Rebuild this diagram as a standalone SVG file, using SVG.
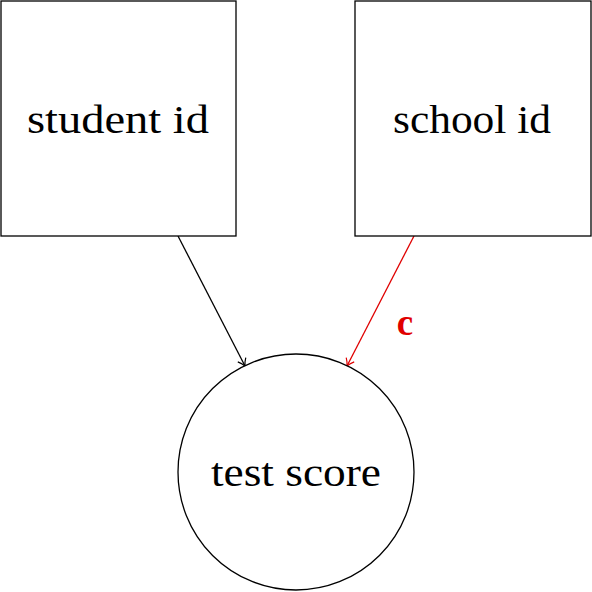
<svg xmlns="http://www.w3.org/2000/svg" width="592" height="592" viewBox="0 0 592 592">
<style>
.box{fill:#fff;stroke:#000;stroke-width:1.3}
.lbl{font-family:"Liberation Serif","DejaVu Serif",serif;font-size:40px;text-anchor:middle;fill:#000}
.edge{fill:none;stroke-width:1.3}
</style>
<defs>
<marker id="ab" markerWidth="12" markerHeight="12" refX="9" refY="6" orient="auto" markerUnits="userSpaceOnUse">
<path d="M2,1.5 Q6,5 9,6 Q6,7 2,10.5" fill="none" stroke="#000" stroke-width="1.2"/>
</marker>
<marker id="ar" markerWidth="12" markerHeight="12" refX="9" refY="6" orient="auto" markerUnits="userSpaceOnUse">
<path d="M2,1.5 Q6,5 9,6 Q6,7 2,10.5" fill="none" stroke="#e00000" stroke-width="1.2"/>
</marker>
</defs>
<g id="edges">
<line class="edge" x1="178" y1="236" x2="245" y2="366" stroke="#000" marker-end="url(#ab)"/>
<line class="edge" x1="414" y1="236" x2="347" y2="366" stroke="#e00000" marker-end="url(#ar)"/>
<text x="405" y="335" font-family="Liberation Serif, serif" font-weight="bold" font-size="37" fill="#e00000" text-anchor="middle">c</text>
</g>
<g id="student">
<rect class="box" x="1" y="1" width="235" height="235"/>
<text class="lbl" x="118" y="133" textLength="182" lengthAdjust="spacingAndGlyphs">student id</text>
</g>
<g id="school">
<rect class="box" x="355" y="1" width="236" height="235"/>
<text class="lbl" x="472" y="133" textLength="158" lengthAdjust="spacingAndGlyphs">school id</text>
</g>
<g id="test">
<circle class="box" cx="296" cy="472" r="118"/>
<text class="lbl" x="296" y="486" textLength="170" lengthAdjust="spacingAndGlyphs">test score</text>
</g>
</svg>
